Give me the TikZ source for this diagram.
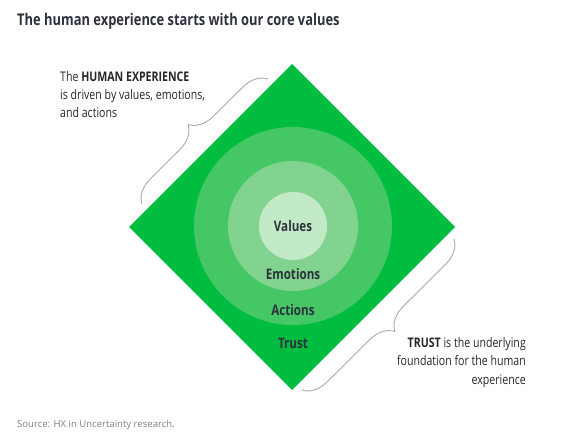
\documentclass[tikz,border=0pt]{standalone}
\usepackage{fontspec}
\setmainfont{Open Sans}
\newfontfamily\condfont{Open Sans}[FakeStretch=0.8]
\usetikzlibrary{positioning,decorations.pathreplacing,calc}

\definecolor{hxgreen}{RGB}{0,188,63}
\definecolor{ringone}{RGB}{69,199,101}
\definecolor{ringtwo}{RGB}{129,211,143}
\definecolor{ringthree}{RGB}{195,234,199}
\definecolor{inkdark}{RGB}{45,50,62}
\definecolor{bracegray}{RGB}{168,170,172}
\definecolor{sourcegray}{RGB}{128,128,128}

\tikzset{
  ring/.style={circle,inner sep=0pt,minimum size=#1},
  ringlabel/.style={font=\condfont\bfseries\fontsize{14.6}{17}\selectfont,
     text=inkdark,inner sep=0pt,anchor=base},
  sidenote/.style={font=\condfont\fontsize{13.3}{18.5}\selectfont,
     text=black!85,inner sep=0pt},
  hxbrace/.style={draw=bracegray,line width=0.9bp,decorate,
     decoration={brace,amplitude=24bp}}
}

\begin{document}
\begin{tikzpicture}[x=1bp,y=-1bp]

\useasboundingbox (0,0) rectangle (588,434);

\node[anchor=base west,inner sep=0pt,text=inkdark,
   font=\condfont\bfseries\fontsize{16.2}{19}\selectfont] (title) at (17,25.5)
   {The human experience starts with our core values};

% diamond
\coordinate (top)    at (292, 64);
\coordinate (right)  at (455,227);
\coordinate (bottom) at (292,390);
\coordinate (left)   at (129,227);
\fill[hxgreen] (top)--(right)--(bottom)--(left)--cycle;

% rings
\node[ring=198bp,fill=ringone]   (actions)  at (293,226) {};
\node[ring=130bp,fill=ringtwo]   (emotions) at (actions.center) {};
\node[ring=68bp,fill=ringthree]  (values)   at (actions.center) {};

\node[ringlabel] (lvalues)   at (293,232) {Values};
\node[ringlabel] (lemotions) at (293,280) {Emotions};
\node[ringlabel] (lactions)  at (293,315) {Actions};
\node[ringlabel] (ltrust)    at (293,348) {Trust};

% braces
\coordinate (lb1) at (142,204);
\coordinate (lb2) at (268, 79);
\coordinate (rb1) at (302,390);
\coordinate (rb2) at (454,239);
\draw[hxbrace] (lb1) -- (lb2);
\draw[hxbrace] (rb2) -- (rb1);

% notes (base = last line)
\node[sidenote,anchor=base west,align=left] (hxnote) at (60,118)
   {The \textbf{HUMAN EXPERIENCE}\\is driven by values, emotions,\\and actions};
\node[sidenote,anchor=base east,align=right] (trustnote) at (526,384)
   {\textbf{TRUST} is the underlying\\foundation for the human\\experience};

\node[anchor=base west,inner sep=0pt,text=sourcegray,
   font=\fontsize{9.6}{12}\selectfont] (source) at (17,427)
   {Source: HX in Uncertainty research.};

\end{tikzpicture}
\end{document}
